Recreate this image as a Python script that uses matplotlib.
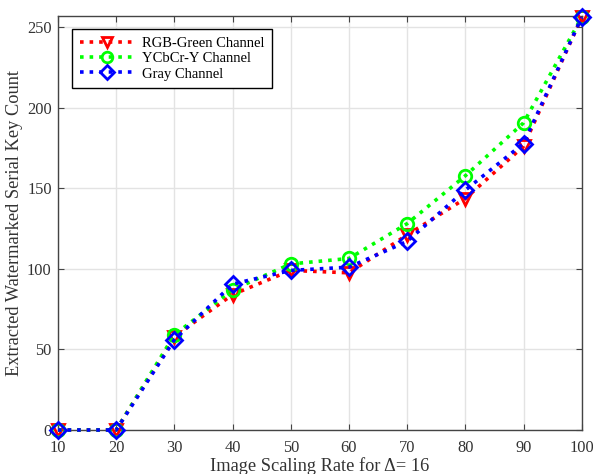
import matplotlib
matplotlib.use("Agg")
import matplotlib.pyplot as plt

scaling_rate = [10, 20, 30, 40, 50, 60, 70, 80, 90, 100]
rgb_green = [0, 0, 58, 84, 99, 97.5, 121, 143.6, 176, 256]
ycbcr_y = [0, 0, 59, 87, 103, 106.4, 128, 157.7, 190.5, 256]
gray = [0, 0, 56, 90.5, 99, 101, 117, 148.8, 177.7, 256]

plt.rcParams["font.family"] = ["Liberation Serif", "DejaVu Serif"]

fig = plt.figure(figsize=(5.93, 4.74), dpi=100)
ax = fig.add_axes([58 / 593, 1 - 430 / 474, (581.7 - 58) / 593, (430 - 15.7) / 474])

common = dict(linestyle=":", linewidth=2.6, markerfacecolor="none",
              markeredgewidth=2.0, clip_on=False, zorder=3)
ax.plot(scaling_rate, rgb_green, color="#ff0000", marker="v", markersize=9,
        label="RGB-Green Channel", **common)
ax.plot(scaling_rate, ycbcr_y, color="#00ff00", marker="o", markersize=9,
        label="YCbCr-Y Channel", **common)
ax.plot(scaling_rate, gray, color="#0000ff", marker="D", markersize=8,
        label="Gray Channel", **common)

ax.set_xlim(10, 100)
ax.set_ylim(0, 257)
ax.set_xticks(scaling_rate)
ax.set_yticks([0, 50, 100, 150, 200, 250])
ax.grid(True, color="#e3e3e3", linewidth=1.0)
ax.set_axisbelow(True)
for s in ax.spines.values():
    s.set_color("#444444")
    s.set_linewidth(1.0)
ax.tick_params(direction="in", top=True, right=True, length=4,
               colors="#444444", labelcolor="#333333", labelsize=11.8)
ax.tick_params(axis="x", pad=7.5)
ax.tick_params(axis="y", pad=4.5)

ax.set_xlabel("Image Scaling Rate for \u0394= 16", fontsize=13.2, color="#333333")
ax.set_ylabel("Extracted Watermarked Serial Key Count", fontsize=13.2, color="#333333")
ax.xaxis.set_label_coords(0.5, (430 - 457) / 414.3)
ax.yaxis.set_label_coords((23 - 58) / 523.7, 0.5)

leg = ax.legend(loc="upper left", bbox_to_anchor=(72.3 / 593, 1 - 29.3 / 474),
                bbox_transform=fig.transFigure, borderaxespad=0, fontsize=10.5,
                frameon=True, fancybox=False, edgecolor="black", framealpha=1,
                handlelength=3.7, borderpad=0.5, labelspacing=0.15,
                handletextpad=0.6, markerscale=0.85)
leg.get_frame().set_linewidth(1.0)

fig.savefig("out.png", dpi=100)
